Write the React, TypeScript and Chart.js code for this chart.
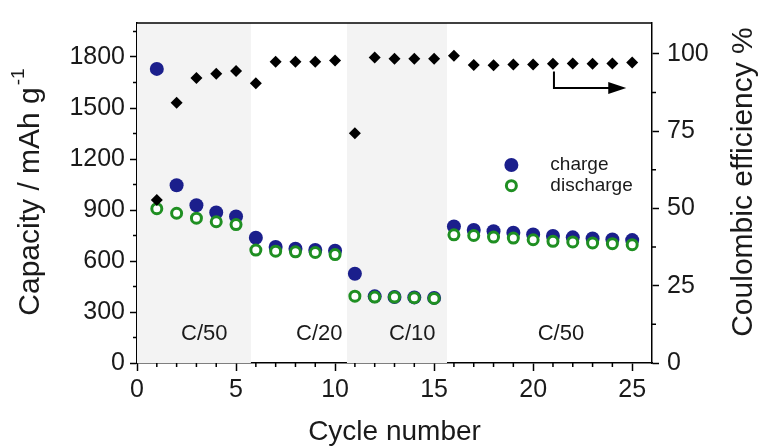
import React, { useEffect, useRef } from 'react';
import { Chart, registerables } from 'chart.js';
Chart.register(...registerables);

const cycles = [1, 2, 3, 4, 5, 6, 7, 8, 9, 10, 11, 12, 13, 14, 15, 16, 17, 18, 19, 20, 21, 22, 23, 24, 25];
const chargeCapacity = [1730, 1046, 928, 885, 862, 737, 683, 672, 665, 660, 525, 392, 388, 386, 383, 803, 783, 775, 766, 756, 747, 739, 733, 727, 723];
const dischargeCapacity = [908, 881, 852, 831, 814, 664, 658, 654, 650, 638, 393, 388, 388, 384, 380, 754, 750, 741, 735, 725, 716, 712, 706, 702, 696];
const coulombicEfficiency = [52.7, 84.2, 92.2, 93.6, 94.5, 90.5, 97.5, 97.5, 97.5, 97.9, 74.3, 98.8, 98.4, 98.4, 98.4, 99.4, 96.4, 96.3, 96.6, 96.6, 96.8, 96.9, 96.8, 96.9, 97.2];

const capacityTicks = [0, 300, 600, 900, 1200, 1500, 1800];
const capacityMinorTicks = [150, 450, 750, 1050, 1350, 1650, 1950];
const efficiencyTicks = [0, 25, 50, 75, 100];
const efficiencyMinorTicks = [12.5, 37.5, 62.5, 87.5];
const cycleTicks = [0, 5, 10, 15, 20, 25];
const cycleMinorTicks = [1, 2, 3, 4, 6, 7, 8, 9, 11, 12, 13, 14, 16, 17, 18, 19, 21, 22, 23, 24];

const rateLabels = ['C/50', 'C/20', 'C/10', 'C/50'];
const rateBounds = [0, 5.75, 10.6, 15.65, 26];
const rateLabelCycle = [3.4, 9.2, 13.9, 21.4];

const leftTitle = 'Capacity / mAh g';
const leftTitleSup = '-1';
const rightTitle = 'Coulombic efficiency %';

const FONT = '"Liberation Sans", Arial, sans-serif';
const NAVY = '#1b1f8c';
const GREEN = '#1f8f22';
const TEXT = '#1a1a1a';

const decorPlugin = {
  id: 'decor',
  beforeDatasetsDraw(chart: any) {
    const { ctx, chartArea } = chart;
    const x = chart.scales.x;
    const y = chart.scales.y;
    ctx.save();
    for (let i = 0; i < rateLabels.length; i++) {
      if (i % 2 === 0) {
        const x0 = x.getPixelForValue(rateBounds[i]);
        const x1 = x.getPixelForValue(rateBounds[i + 1]);
        ctx.fillStyle = '#f3f3f3';
        ctx.fillRect(x0, chartArea.top, x1 - x0, chartArea.bottom - chartArea.top);
      }
    }
    ctx.fillStyle = TEXT;
    ctx.font = `22px ${FONT}`;
    ctx.textAlign = 'center';
    ctx.textBaseline = 'middle';
    for (let i = 0; i < rateLabels.length; i++) {
      ctx.fillText(rateLabels[i], x.getPixelForValue(rateLabelCycle[i]), y.getPixelForValue(170));
    }
    ctx.restore();
  },
  afterDraw(chart: any) {
    const { ctx, chartArea } = chart;
    const x = chart.scales.x;
    const y = chart.scales.y;
    const y2 = chart.scales.y2;
    ctx.save();
    ctx.strokeStyle = '#000';
    ctx.lineWidth = 1.5;
    // top frame
    ctx.beginPath();
    ctx.moveTo(chartArea.left, chartArea.top);
    ctx.lineTo(chartArea.right, chartArea.top);
    ctx.stroke();
    // minor ticks
    ctx.beginPath();
    for (const v of cycleMinorTicks) {
      const px = x.getPixelForValue(v);
      ctx.moveTo(px, chartArea.bottom);
      ctx.lineTo(px, chartArea.bottom + 4);
    }
    for (const v of capacityMinorTicks) {
      const py = y.getPixelForValue(v);
      ctx.moveTo(chartArea.left, py);
      ctx.lineTo(chartArea.left - 4, py);
    }
    for (const v of efficiencyMinorTicks) {
      const py = y2.getPixelForValue(v);
      ctx.moveTo(chartArea.right, py);
      ctx.lineTo(chartArea.right + 4, py);
    }
    ctx.stroke();
    // arrow pointing to right axis
    const ax = x.getPixelForValue(21.05);
    const ay0 = y2.getPixelForValue(94.3);
    const ay1 = y2.getPixelForValue(89.0);
    const tip = x.getPixelForValue(24.7);
    ctx.lineWidth = 2;
    ctx.beginPath();
    ctx.moveTo(ax, ay0);
    ctx.lineTo(ax, ay1);
    ctx.lineTo(tip - 14, ay1);
    ctx.stroke();
    ctx.fillStyle = '#000';
    ctx.beginPath();
    ctx.moveTo(tip, ay1);
    ctx.lineTo(tip - 18, ay1 - 6);
    ctx.lineTo(tip - 18, ay1 + 6);
    ctx.closePath();
    ctx.fill();
    // legend
    const lx = x.getPixelForValue(18.9);
    const ly0 = y.getPixelForValue(1165);
    const ly1 = y.getPixelForValue(1043);
    ctx.fillStyle = NAVY;
    ctx.beginPath();
    ctx.arc(lx, ly0, 7, 0, Math.PI * 2);
    ctx.fill();
    ctx.fillStyle = '#fff';
    ctx.strokeStyle = GREEN;
    ctx.lineWidth = 3;
    ctx.beginPath();
    ctx.arc(lx, ly1, 5, 0, Math.PI * 2);
    ctx.fill();
    ctx.stroke();
    ctx.fillStyle = TEXT;
    ctx.font = `19px ${FONT}`;
    ctx.textAlign = 'left';
    ctx.textBaseline = 'middle';
    const ds = chart.data.datasets;
    ctx.fillText(ds[0].label, lx + 39, ly0);
    ctx.fillText(ds[1].label, lx + 39, ly1);

    // vertical axis titles (both read bottom-to-top)
    ctx.fillStyle = TEXT;
    ctx.textBaseline = 'middle';
    // left
    ctx.save();
    ctx.translate(31, 192);
    ctx.rotate(-Math.PI / 2);
    ctx.font = `30px ${FONT}`;
    const mainW = ctx.measureText(leftTitle).width;
    ctx.font = `19px ${FONT}`;
    const supW = ctx.measureText(leftTitleSup).width;
    const total = mainW + 2 + supW;
    ctx.textAlign = 'left';
    ctx.font = `30px ${FONT}`;
    ctx.fillText(leftTitle, -total / 2, 0);
    ctx.font = `19px ${FONT}`;
    ctx.fillText(leftTitleSup, -total / 2 + mainW + 2, -12);
    ctx.restore();
    // right
    ctx.save();
    ctx.translate(744, 182);
    ctx.rotate(-Math.PI / 2);
    ctx.font = `30px ${FONT}`;
    ctx.textAlign = 'center';
    ctx.fillText(rightTitle, 0, 0);
    ctx.restore();
    ctx.restore();
  },
};

export default function App() {
  const ref = useRef<HTMLCanvasElement>(null);
  useEffect(() => {
    document.body.style.margin = '0';
    const canvas = ref.current!;
    const tickFont = { family: FONT, size: 25 };
    const titleFont = { family: FONT, size: 28, lineHeight: 1 };
    const plain = (v: any) => String(v);
    const chart = new Chart(canvas, {
      type: 'scatter',
      data: {
        datasets: [
          {
            label: 'charge',
            data: cycles.map((c, i) => ({ x: c, y: chargeCapacity[i] })),
            yAxisID: 'y',
            backgroundColor: NAVY,
            borderColor: NAVY,
            borderWidth: 0,
            pointRadius: 7,
            order: 2,
          },
          {
            label: 'discharge',
            data: cycles.map((c, i) => ({ x: c, y: dischargeCapacity[i] })),
            yAxisID: 'y',
            backgroundColor: '#ffffff',
            borderColor: GREEN,
            borderWidth: 3,
            pointRadius: 5,
            order: 1,
          },
          {
            label: 'Coulombic efficiency',
            data: cycles.map((c, i) => ({ x: c, y: coulombicEfficiency[i] })),
            yAxisID: 'y2',
            backgroundColor: '#000',
            borderColor: '#000',
            borderWidth: 0,
            pointStyle: 'rectRot',
            pointRadius: 6,
            order: 0,
          },
        ],
      },
      options: {
        animation: false,
        responsive: false,
        devicePixelRatio: 1,
        layout: { padding: { top: 18, left: 0, right: 0, bottom: 0 } },
        plugins: { legend: { display: false }, tooltip: { enabled: false } },
        scales: {
          x: {
            type: 'linear',
            min: 0,
            max: 26,
            afterBuildTicks: (s: any) => { s.ticks = cycleTicks.map((v) => ({ value: v })); },
            afterFit: (s: any) => { s.height = 83; },
            ticks: { font: tickFont, color: TEXT, padding: 4, maxRotation: 0, callback: plain },
            grid: { drawOnChartArea: false, drawTicks: true, tickLength: 8, color: '#000', tickWidth: 1.5 },
            border: { display: true, color: '#000', width: 1.5 },
            title: { display: true, text: 'Cycle number', font: titleFont, color: TEXT, padding: { top: 0, bottom: 0 } },
          },
          y: {
            type: 'linear',
            position: 'left',
            min: 0,
            max: 2000,
            afterBuildTicks: (s: any) => { s.ticks = capacityTicks.map((v) => ({ value: v })); },
            afterFit: (s: any) => { s.width = 137; },
            ticks: { font: tickFont, color: TEXT, padding: 5, callback: plain },
            grid: { drawOnChartArea: false, drawTicks: true, tickLength: 7, color: '#000', tickWidth: 1.5 },
            border: { display: true, color: '#000', width: 1.5 },
            title: { display: false },
          },
          y2: {
            type: 'linear',
            position: 'right',
            min: 0,
            max: 110,
            afterBuildTicks: (s: any) => { s.ticks = efficiencyTicks.map((v) => ({ value: v })); },
            afterFit: (s: any) => { s.width = 107; },
            ticks: { font: tickFont, color: TEXT, padding: 8, callback: plain },
            grid: { drawOnChartArea: false, drawTicks: true, tickLength: 7, color: '#000', tickWidth: 1.5 },
            border: { display: true, color: '#000', width: 1.5 },
            title: { display: false },
          },
        },
      },
      plugins: [decorPlugin],
    });
    return () => chart.destroy();
  }, []);
  return <canvas ref={ref} width={759} height={446} style={{ display: 'block' }} />;
}
